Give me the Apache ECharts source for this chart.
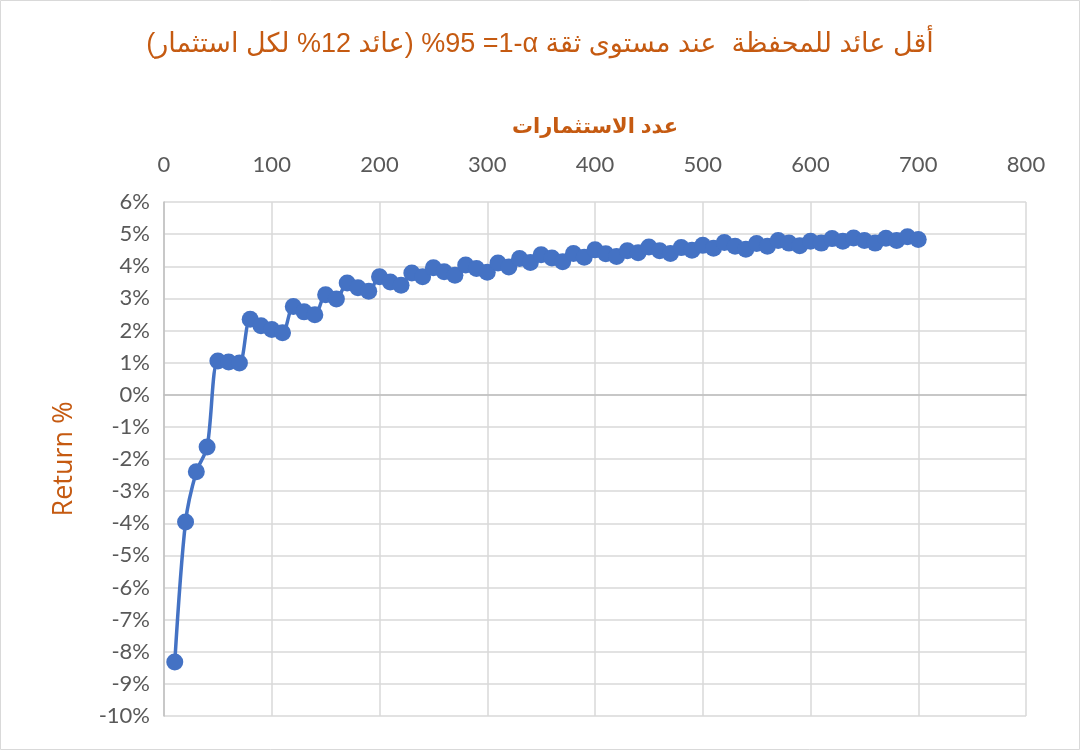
<!DOCTYPE html>
<html>
<head>
<meta charset="utf-8">
<script src="https://cdn.jsdelivr.net/npm/echarts@6/dist/echarts.min.js"></script>
<style>
  html, body { margin: 0; padding: 0; background: #fff; }
  #chart { width: 1080px; height: 750px; }
</style>
</head>
<body>
<div id="chart"></div>
<script>
// Number of investments (x values)
const investments = [10, 20, 30, 40, 50, 60, 70, 80, 90, 100,
  110, 120, 130, 140, 150, 160, 170, 180, 190, 200,
  210, 220, 230, 240, 250, 260, 270, 280, 290, 300,
  310, 320, 330, 340, 350, 360, 370, 380, 390, 400,
  410, 420, 430, 440, 450, 460, 470, 480, 490, 500,
  510, 520, 530, 540, 550, 560, 570, 580, 590, 600,
  610, 620, 630, 640, 650, 660, 670, 680, 690, 700];

// Minimum portfolio return (%) at 95% confidence
const minReturn = [-8.32, -3.96, -2.40, -1.63, 1.05, 1.02, 0.99, 2.35, 2.15, 2.03,
  1.93, 2.75, 2.58, 2.49, 3.11, 2.98, 3.48, 3.33, 3.22, 3.67,
  3.51, 3.41, 3.79, 3.67, 3.95, 3.83, 3.72, 4.04, 3.93, 3.81,
  4.10, 3.98, 4.24, 4.12, 4.36, 4.26, 4.14, 4.40, 4.28, 4.51,
  4.39, 4.30, 4.48, 4.42, 4.60, 4.48, 4.40, 4.58, 4.50, 4.65,
  4.56, 4.74, 4.62, 4.53, 4.71, 4.62, 4.80, 4.72, 4.64, 4.78,
  4.72, 4.86, 4.78, 4.88, 4.80, 4.72, 4.87, 4.80, 4.92, 4.83];

// Title pieces, listed in their on-screen (left-to-right) order
const titlePieces = ['(', 'لكل استثمار', ' %12 ', 'عائد', ') %95 =1-α ', 'أقل عائد للمحفظة  عند مستوى ثقة'];
const xAxisTitle = 'عدد الاستثمارات';
const yAxisTitle = 'Return %';

const orange = '#C55A11';
const labelColor = '#595959';
const tickFont = "Lato, 'Open Sans', sans-serif";
const titleFont = "'Liberation Sans', 'DejaVu Sans', sans-serif";

const titleRich = {};
titlePieces.forEach((p, i) => {
  titleRich['p' + i] = { color: orange, fontSize: 27, fontFamily: titleFont };
});
const titleText = titlePieces.map((p, i) => '{p' + i + '|' + p + '}').join('');

const chart = echarts.init(document.getElementById('chart'), null, { renderer: 'canvas' });
chart.setOption({
  backgroundColor: '#ffffff',
  animation: false,
  graphic: [{
    type: 'rect',
    shape: { x: 0.5, y: 0.5, width: 1079, height: 749 },
    style: { fill: 'none', stroke: '#D9D9D9', lineWidth: 1 },
    silent: true
  }],
  title: {
    text: titleText,
    left: 'center',
    top: 26,
    textStyle: { color: orange, fontSize: 27, fontWeight: 'normal', fontFamily: titleFont, rich: titleRich }
  },
  grid: { left: 164, right: 54, top: 202, bottom: 34, containLabel: false },
  xAxis: {
    type: 'value',
    position: 'top',
    min: 0, max: 800, interval: 100,
    name: xAxisTitle,
    nameLocation: 'middle',
    nameGap: 64,
    nameTextStyle: { color: orange, fontSize: 21, fontWeight: 'bold', fontFamily: titleFont },
    axisLine: { show: true, lineStyle: { color: '#BFBFBF', width: 1.5 } },
    axisTick: { show: false },
    axisLabel: { color: labelColor, fontSize: 22, fontFamily: tickFont, margin: 26 },
    splitLine: { show: true, lineStyle: { color: '#D9D9D9', width: 1.5 } }
  },
  yAxis: {
    type: 'value',
    min: -10, max: 6, interval: 1,
    name: yAxisTitle,
    nameLocation: 'middle',
    nameGap: 86,
    nameRotate: 90,
    nameTextStyle: { color: orange, fontSize: 27, fontFamily: "'Open Sans', sans-serif" },
    axisLine: { show: true, onZero: false, lineStyle: { color: '#BFBFBF', width: 1.5 } },
    axisTick: { show: false },
    axisLabel: { color: labelColor, fontSize: 22, fontFamily: tickFont, margin: 14, formatter: '{value}%' },
    splitLine: { show: true, lineStyle: { color: '#D9D9D9', width: 1.5 } }
  },
  series: [{
    type: 'line',
    data: investments.map((x, i) => [x, minReturn[i]]),
    smooth: 0.3,
    symbol: 'circle',
    symbolSize: 17,
    lineStyle: { color: '#4472C4', width: 3.5 },
    itemStyle: { color: '#4472C4' }
  }]
});
</script>
</body>
</html>
